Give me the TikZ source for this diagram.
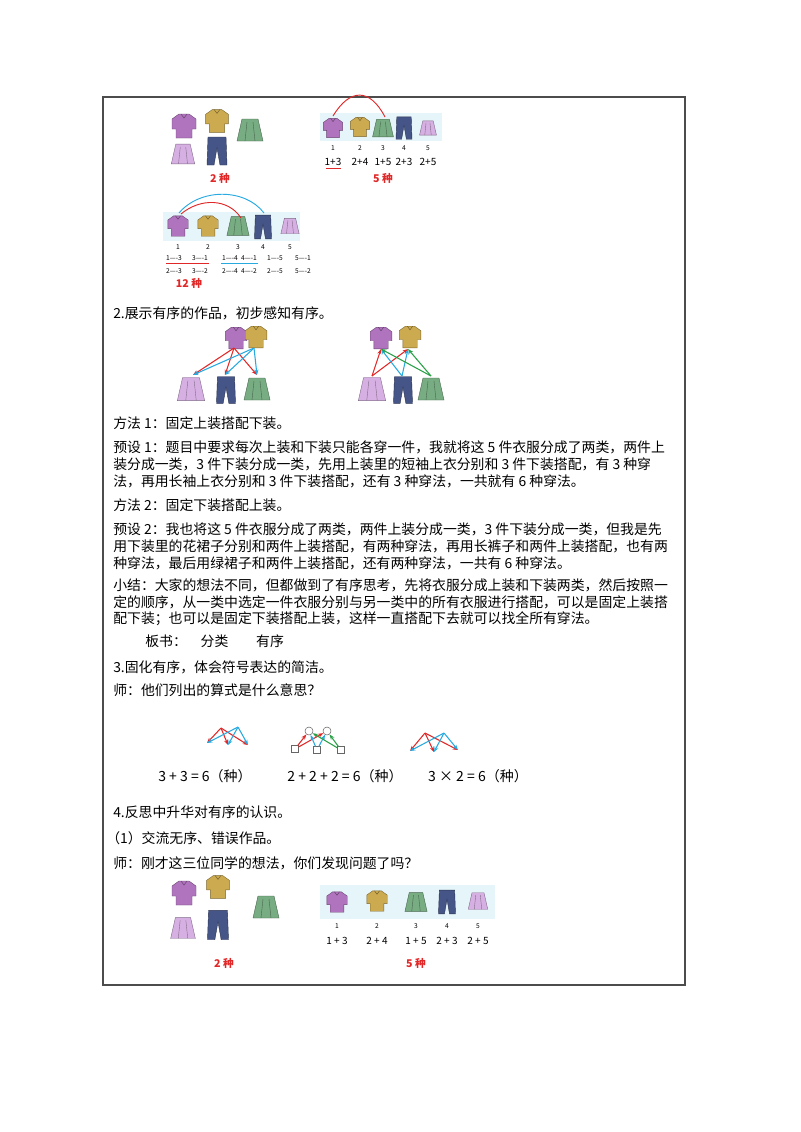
\documentclass[tikz,border=0pt]{standalone}
\usepackage{fontspec}
\setmainfont{Noto Sans CJK SC}
\usetikzlibrary{arrows.meta}
\definecolor{cpur}{RGB}{176,116,190}
\definecolor{cyel}{RGB}{204,170,80}
\definecolor{cjean}{RGB}{70,85,135}
\definecolor{cgrn}{RGB}{120,172,130}
\definecolor{cpink}{RGB}{214,176,226}
\definecolor{cbg}{RGB}{230,245,250}
\definecolor{cred}{RGB}{225,40,40}
\definecolor{cblue}{RGB}{40,170,225}
\definecolor{cgreen}{RGB}{40,160,70}
\tikzset{
  x=0.75pt,y=-0.75pt,
  txt/.style={anchor=west,inner sep=0pt,font=\fontsize{10.4}{13}\selectfont},
  sm/.style={inner sep=0pt,font=\fontsize{5}{6}\selectfont},
  frm/.style={inner sep=0pt,font=\fontsize{7.5}{9}\selectfont},
  redl/.style={inner sep=0pt,text=cred,font=\bfseries\fontsize{8}{9}\selectfont},
  ra/.style={cred,line width=0.8pt,-{Stealth[length=4pt]}},
  ba/.style={cblue,line width=0.8pt,-{Stealth[length=4pt]}},
  ga/.style={cgreen,line width=0.8pt,-{Stealth[length=4pt]}},
  pics/shirt/.style={code={\filldraw[fill=#1,draw=#1!60!black,line width=0.3pt]
    (-5,-12)--(5,-12)--(12,-7)--(12,3)--(8,3)--(8,12)--(-8,12)--(-8,3)--(-12,3)--(-12,-7)--cycle;
    \draw[#1!50!black,line width=0.3pt](-3,-12)--(0,-8)--(3,-12);}},
  pics/pants/.style={code={\filldraw[fill=#1,draw=#1!60!black,line width=0.3pt]
    (-9,-14)--(9,-14)--(10,14)--(3,14)--(0,-3)--(-3,14)--(-10,14)--cycle;}},
  pics/skirt/.style={code={\filldraw[fill=#1,draw=#1!60!black,line width=0.3pt]
    (-8,-11)--(8,-11)--(13,11)--(-13,11)--cycle;
    \draw[#1!60!black,line width=0.3pt](-3,-8)--(-5,11) (3,-8)--(5,11);}}
}
\begin{document}
\begin{tikzpicture}
\useasboundingbox (0,0) rectangle (800,1132);
\draw[line width=0.8pt,black!70] (103,97) rectangle (685,985);

% ---- top-left group
\pic[scale=1.0] at (184,126) {shirt=cpur};
\pic[scale=0.9] at (183,154) {skirt=cpink};
\pic[scale=0.95] at (217,121) {shirt=cyel};
\pic[scale=1.0] at (217,151) {pants=cjean};
\pic[scale=1.0] at (250,130) {skirt=cgrn};
\node[redl] (t2) at (220,178) {2 种};

% ---- top-right group
\fill[cbg] (320,113) rectangle (442,141);
\pic[scale=0.8] at (333,128) {shirt=cpur};
\pic[scale=0.8] at (360,127) {shirt=cyel};
\pic[scale=0.8] at (383,128) {skirt=cgrn};
\pic[scale=0.8] at (404,128) {pants=cjean};
\pic[scale=0.65] at (428,128) {skirt=cpink};
\coordinate (a1) at (333,116); \coordinate (a3) at (385,117);
\draw[cred,line width=0.7pt] (a1) .. controls (350,88) and (370,88) .. (a3);
\foreach \x/\n in {333/1,360/2,383/3,404/4,428/5}{\node[sm] at (\x,148) {\n};}
\foreach \x/\t in {333/1+3,360/2+4,383/1+5,404/2+3,428/2+5}{\node[frm] at (\x,162) {\t};}
\draw[cred,line width=0.6pt] (326,168)--(341,168);
\node[redl] (t5) at (383,178) {5 种};

% ---- 12 group
\fill[cbg] (163,212) rectangle (300,241);
\pic[scale=0.85] at (178,226) {shirt=cpur};
\pic[scale=0.85] at (208,226) {shirt=cyel};
\pic[scale=0.85] at (238,226) {skirt=cgrn};
\pic[scale=0.85] at (263,227) {pants=cjean};
\pic[scale=0.7] at (290,226) {skirt=cpink};
\draw[cblue,line width=0.7pt] (179,213) .. controls (200,188) and (245,188) .. (264,213);
\draw[cred,line width=0.7pt] (181,214) .. controls (200,198) and (228,198) .. (241,218);
\foreach \x/\n in {178/1,208/2,238/3,263/4,290/5}{\node[sm] at (\x,247) {\n};}
\foreach \x/\a/\b in {174/1/3,200/3/1,230/1/4,249/4/1,275/1/5,303/5/1}{\node[sm] at (\x,258) {\a----\b};}
\foreach \x/\a/\b in {174/2/3,200/3/2,230/2/4,249/4/2,275/2/5,303/5/2}{\node[sm] at (\x,271) {\a----\b};}
\draw[cred,line width=0.6pt] (166,263)--(209,263);
\draw[cblue,line width=0.6pt] (221,263)--(258,263);
\node[redl] (t12) at (189,283) {12 种};

\node[txt] (s2) at (113,313) {2.展示有序的作品，初步感知有序。};

% ---- section 2 left
\pic[scale=0.9] at (236,338) {shirt=cpur};
\pic[scale=0.9] at (256,337) {shirt=cyel};
\pic[scale=1.05] at (191,389) {skirt=cpink};
\pic[scale=0.95] at (226,390) {pants=cjean};
\pic[scale=1.0] at (257,389) {skirt=cgrn};
\coordinate (L1) at (234,348); \coordinate (L2) at (254,348);
\coordinate (Lb1) at (193,375); \coordinate (Lb2) at (225,375); \coordinate (Lb3) at (257,375);
\draw[ra] (L1)--(Lb1); \draw[ra] (L1)--(Lb2); \draw[ra] (L1)--(Lb3);
\draw[ba] (L2)--(Lb1); \draw[ba] (L2)--(Lb2); \draw[ba] (L2)--(Lb3);

% ---- section 2 right
\pic[scale=0.9] at (381,338) {shirt=cpur};
\pic[scale=0.9] at (410,337) {shirt=cyel};
\pic[scale=1.05] at (372,389) {skirt=cpink};
\pic[scale=0.95] at (403,390) {pants=cjean};
\pic[scale=1.0] at (431,389) {skirt=cgrn};
\coordinate (R1) at (381,349); \coordinate (R2) at (408,349);
\coordinate (Rb1) at (372,376); \coordinate (Rb2) at (402,376); \coordinate (Rb3) at (431,376);
\draw[ra] (Rb1)--(R1); \draw[ra] (Rb1)--(R2);
\draw[ba] (Rb2)--(R1); \draw[ba] (Rb2)--(R2);
\draw[ga] (Rb3)--(R1); \draw[ga] (Rb3)--(R2);

% ---- text block
\node[txt] (m1) at (113,423) {方法 1：固定上装搭配下装。};
\node[txt] (p1a) at (113,447) {预设 1：题目中要求每次上装和下装只能各穿一件，我就将这 5 件衣服分成了两类，两件上};
\node[txt] (p1b) at (113,464) {装分成一类，3 件下装分成一类，先用上装里的短袖上衣分别和 3 件下装搭配，有 3 种穿};
\node[txt] (p1c) at (113,481) {法，再用长袖上衣分别和 3 件下装搭配，还有 3 种穿法，一共就有 6 种穿法。};
\node[txt] (m2) at (113,505) {方法 2：固定下装搭配上装。};
\node[txt] (p2a) at (113,529) {预设 2：我也将这 5 件衣服分成了两类，两件上装分成一类，3 件下装分成一类，但我是先};
\node[txt] (p2b) at (113,546) {用下装里的花裙子分别和两件上装搭配，有两种穿法，再用长裤子和两件上装搭配，也有两};
\node[txt] (p2c) at (113,563) {种穿法，最后用绿裙子和两件上装搭配，还有两种穿法，一共有 6 种穿法。};
\node[txt] (x1) at (113,585) {小结：大家的想法不同，但都做到了有序思考，先将衣服分成上装和下装两类，然后按照一};
\node[txt] (x2) at (113,602) {定的顺序，从一类中选定一件衣服分别与另一类中的所有衣服进行搭配，可以是固定上装搭};
\node[txt] (x3) at (113,619) {配下装；也可以是固定下装搭配上装，这样一直搭配下去就可以找全所有穿法。};
\node[txt] (bs) at (145,641) {板书：\quad 分类\quad\quad 有序};
\node[txt] (s3) at (113,667) {3.固化有序，体会符号表达的简洁。};
\node[txt] (sh) at (113,690) {师：他们列出的算式是什么意思？};

% ---- section 3 diagrams
\coordinate (A1) at (221,728); \coordinate (A2) at (238,727);
\coordinate (c1) at (207,743); \coordinate (c2) at (228,745); \coordinate (c3) at (248,745);
\draw[ra] (A1)--(c1); \draw[ra] (A1)--(c2); \draw[ra] (A1)--(c3);
\draw[ba] (A2)--(c1); \draw[ba] (A2)--(c2); \draw[ba] (A2)--(c3);
\node[draw,circle,minimum size=6pt,inner sep=0pt,black!60] (o1) at (309,731) {};
\node[draw,circle,minimum size=6pt,inner sep=0pt,black!60] (o2) at (327,731) {};
\node[draw,minimum size=5pt,inner sep=0pt,black!60] (q1) at (295,749) {};
\node[draw,minimum size=5pt,inner sep=0pt,black!60] (q2) at (317,750) {};
\node[draw,minimum size=5pt,inner sep=0pt,black!60] (q3) at (341,750) {};
\draw[ra] (q1)--(o1); \draw[ra] (q1)--(o2);
\draw[ba] (q2)--(o1); \draw[ba] (q2)--(o2);
\draw[ga] (q3)--(o1); \draw[ga] (q3)--(o2);
\coordinate (B1) at (425,733); \coordinate (B2) at (444,733);
\coordinate (d1) at (410,751); \coordinate (d2) at (434,752); \coordinate (d3) at (458,750);
\draw[ra] (B1)--(d1); \draw[ra] (B1)--(d2); \draw[ra] (B1)--(d3);
\draw[ba] (B2)--(d1); \draw[ba] (B2)--(d2); \draw[ba] (B2)--(d3);
\node[inner sep=0pt,font=\fontsize{10.5}{12}\selectfont] (f1) at (205,776) {3 + 3 = 6（种）};
\node[inner sep=0pt,font=\fontsize{10.5}{12}\selectfont] (f2) at (345,776) {2 + 2 + 2 = 6（种）};
\node[inner sep=0pt,font=\fontsize{10.5}{12}\selectfont] (f3) at (478,776) {3 × 2 = 6（种）};

\node[txt] (s4) at (113,812) {4.反思中升华对有序的认识。};
\node[txt] (s41) at (106,838) {（1）交流无序、错误作品。};
\node[txt] (s4s) at (113,863) {师：刚才这三位同学的想法，你们发现问题了吗？};

% ---- bottom groups
\pic[scale=1.0] at (184,893) {shirt=cpur};
\pic[scale=0.95] at (183,928) {skirt=cpink};
\pic[scale=0.95] at (218,887) {shirt=cyel};
\pic[scale=1.05] at (218,925) {pants=cjean};
\pic[scale=1.0] at (266,907) {skirt=cgrn};
\node[redl] (b2) at (224,963) {2 种};
\fill[cbg] (320,885) rectangle (495,919);
\pic[scale=0.85] at (337,902) {shirt=cpur};
\pic[scale=0.85] at (377,901) {shirt=cyel};
\pic[scale=0.85] at (416,902) {skirt=cgrn};
\pic[scale=0.85] at (447,902) {pants=cjean};
\pic[scale=0.75] at (478,901) {skirt=cpink};
\foreach \x/\n in {337/1,377/2,416/3,447/4,478/5}{\node[sm] at (\x,926) {\n};}
\foreach \x/\t in {337/1 + 3,377/2 + 4,416/1 + 5,447/2 + 3,478/2 + 5}{\node[frm] at (\x,941) {\t};}
\node[redl] (b5) at (416,963) {5 种};
\end{tikzpicture}
\end{document}
